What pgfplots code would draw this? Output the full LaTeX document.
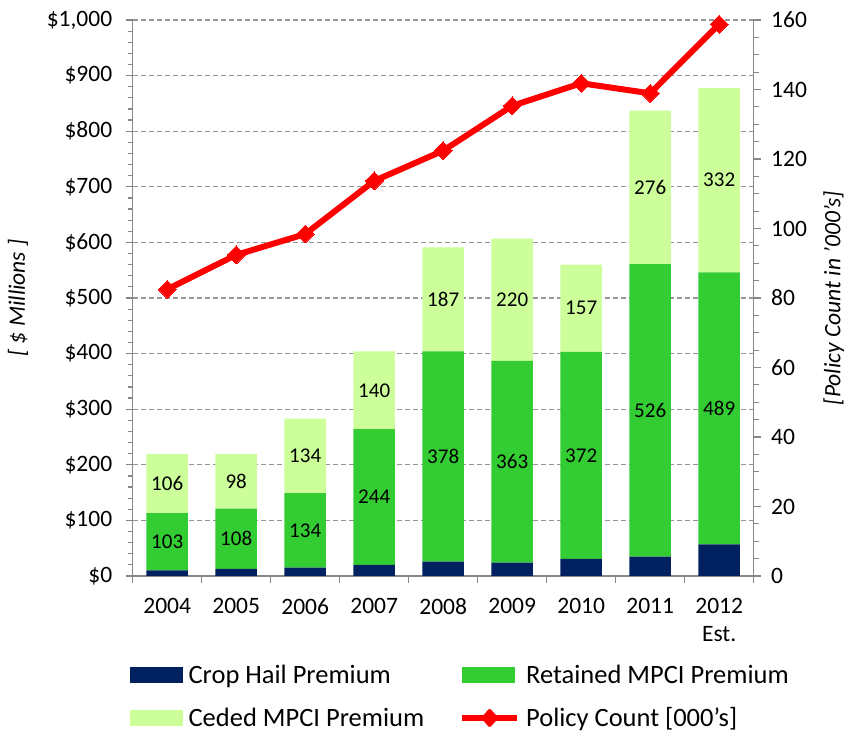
\documentclass[border=0pt]{standalone}
\usepackage{pgfplots}
\pgfplotsset{compat=1.18}
\usepackage{fontspec}
\setmainfont{Carlito}
\definecolor{navy}{RGB}{0,32,96}
\definecolor{retg}{RGB}{51,204,51}
\definecolor{cedg}{RGB}{204,255,153}
\definecolor{axgray}{RGB}{134,134,134}
\definecolor{gridgray}{RGB}{150,150,150}
\newcommand{\tickfont}{\fontsize{23.5bp}{28bp}\selectfont}
\newcommand{\legfont}{\fontsize{26.5bp}{30bp}\selectfont}
\newcommand{\lblfont}{\fontsize{21bp}{24bp}\selectfont}
\begin{document}
\begin{tikzpicture}
\useasboundingbox (0,0) rectangle (845bp,732bp);
\pgfplotsset{
  base/.style={
    at={(132.7bp,156bp)}, anchor=south west,
    scale only axis, width=621bp, height=556bp,
    xmin=-0.5, xmax=8.5,
    /pgf/number format/assume math mode=true,
  }
}
% grid only
\begin{axis}[base, ymin=0, ymax=1000,
  axis line style={draw=none},
  major tick length=0pt, minor tick length=0pt,
  xtick=\empty, ytick={100,200,...,1000},
  yticklabels={},
  ymajorgrids=true,
  major grid style={draw=gridgray, dash pattern=on 5bp off 3bp, line width=1.1bp},
]
\addplot[draw=none, forget plot] coordinates {(0,0) (8,0)};
\end{axis}
% bars
\begin{axis}[base,
  ymin=0, ymax=1000,
  ybar stacked, bar width=41.5bp,
  axis x line*=bottom, axis y line*=left,
  axis line style={axgray, line width=1.5bp},
  tick style={axgray, line width=1.2bp},
  tick align=outside,
  major tick length=7bp, minor tick length=5bp,
  xtick={-0.5,0.5,...,8.5},
  xticklabels={},
  extra x ticks={0,...,8},
  extra x tick labels={2004,2005,2006,2007,2008,2009,2010,2011,2012\\Est.},
  extra x tick style={tick style={draw=none}, xticklabel style={font=\tickfont, align=center, yshift=-12bp}},
  ytick={0,100,...,1000},
  yticklabel={\$\pgfmathprintnumber{\tick}},
  /pgf/number format/1000 sep={,},
  minor y tick num=4,
  yticklabel style={font=\tickfont, xshift=-10bp},
  ylabel={\itshape [ \$ Millions ]},
  every axis y label/.style={at={(-114.7bp,278bp)}, rotate=90, anchor=center, font=\tickfont},
]
\addplot[fill=navy, draw=none] coordinates {(0,10) (1,13) (2,15) (3,20) (4,26) (5,24) (6,31) (7,35) (8,57)};
\addplot[fill=retg, draw=none] coordinates {(0,103) (1,108) (2,134) (3,244) (4,378) (5,363) (6,372) (7,526) (8,489)};
\addplot[fill=cedg, draw=none] coordinates {(0,106) (1,98) (2,134) (3,140) (4,187) (5,220) (6,157) (7,276) (8,332)};
\end{axis}
% segment labels
\begin{axis}[base, ymin=0, ymax=1000, hide axis]
\addplot[draw=none, mark=none, nodes near coords, point meta=explicit symbolic,
  nodes near coords align=center,
  every node near coord/.append style={anchor=center, font=\lblfont, text=black}]
  coordinates {
  (0,61.5)[103] (1,67)[108] (2,82)[134] (3,142)[244] (4,215)[378] (5,205.5)[363] (6,217)[372] (7,298)[526] (8,301.5)[489]
  (0,166)[106] (1,170)[98] (2,216)[134] (3,334)[140] (4,497.5)[187] (5,497)[220] (6,481.5)[157] (7,699)[276] (8,712)[332]
  };
\end{axis}
% line
\begin{axis}[base,
  ymin=0, ymax=160,
  axis x line=none, axis y line*=right,
  axis line style={axgray, line width=1.5bp},
  tick style={axgray, line width=1.2bp},
  tick align=outside,
  major tick length=7bp, minor tick length=5bp,
  ytick={0,20,...,160}, minor y tick num=3,
  yticklabel style={font=\tickfont, xshift=7bp},
  ylabel={\itshape [Policy Count in '000's]},
  every axis y label/.style={at={(701bp,278bp)}, rotate=90, anchor=center, font=\tickfont},
  legend columns=2,
  legend style={draw=none, fill=none, inner sep=0pt, outer sep=0pt,
    at={(-0.004,-0.156)}, anchor=north west,
    font=\legfont, row sep=19bp,
    cells={anchor=west},
    /tikz/every odd column/.append style={column sep=4bp},
    /tikz/every even column/.append style={column sep=33bp}},
]
\addlegendimage{legend image code/.code={\fill[navy] (0bp,-7.5bp) rectangle (52bp,7.5bp);}}
\addlegendentry{Crop Hail Premium}
\addlegendimage{legend image code/.code={\fill[retg] (0bp,-7.5bp) rectangle (52bp,7.5bp);}}
\addlegendentry{Retained MPCI Premium}
\addlegendimage{legend image code/.code={\fill[cedg] (0bp,-7.5bp) rectangle (52bp,7.5bp);}}
\addlegendentry{Ceded MPCI Premium}
\addlegendimage{legend image code/.code={\draw[red, line width=6bp] (0bp,0bp) -- (55bp,0bp); \fill[red, rounded corners=1.5bp] (27.5bp,0bp) +(0,9.5bp) -- +(8.5bp,0) -- +(0,-9.5bp) -- +(-8.5bp,0) -- cycle;}}
\addlegendentry{Policy Count [000's]}
\addplot[red, line width=6bp, mark=square*, mark size=6.3bp, mark options={fill=red, line width=0pt, draw=red, rotate=45}]
  coordinates {(0,82.5) (1,92.4) (2,98.4) (3,113.7) (4,122.4) (5,135.3) (6,141.8) (7,138.9) (8,158.8)};
\end{axis}
\end{tikzpicture}
\end{document}
